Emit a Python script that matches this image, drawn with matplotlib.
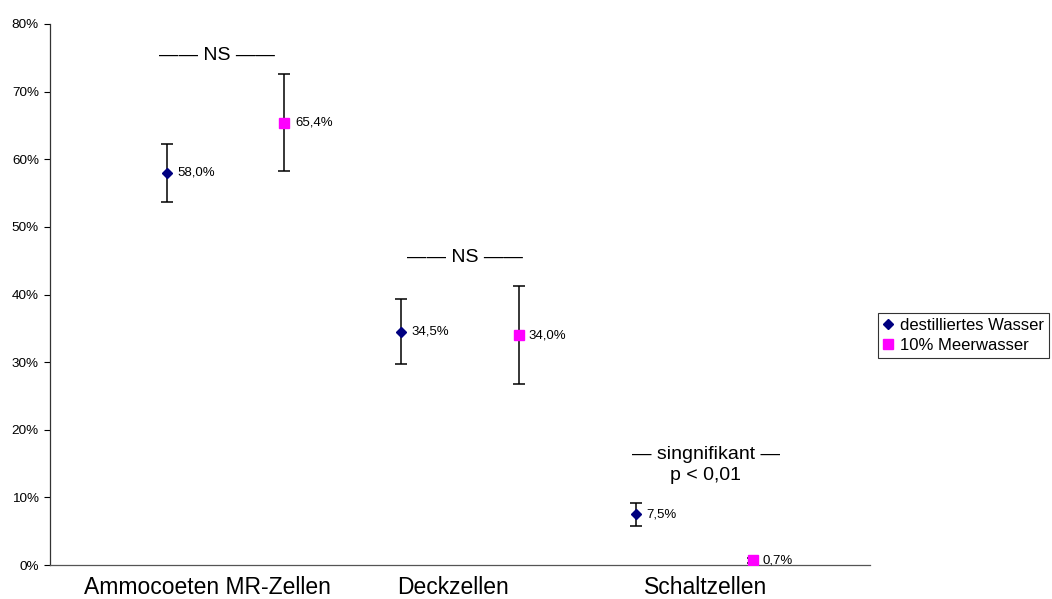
import numpy as np
import matplotlib
matplotlib.use('Agg')
import matplotlib.pyplot as plt
from matplotlib.lines import Line2D
from matplotlib.ticker import FuncFormatter

plt.rcParams['font.family'] = ['Liberation Sans', 'DejaVu Sans']

# ── Daten ────────────────────────────────────────────────────────────────────
zelltypen = ['Ammocoeten MR-Zellen', 'Deckzellen', 'Schaltzellen']
dest_wasser = [58.0, 34.5, 7.5]       # Mittelwert (%)
dest_fehler = [4.3, 4.8, 1.7]         # Fehlerbalken (%)
meerwasser = [65.4, 34.0, 0.7]
meer_fehler = [7.2, 7.3, 0.4]
serien = ['destilliertes Wasser', '10% Meerwasser']

# Signifikanz-Beschriftungen: (Text, x, y)
signif = [
    ('\u2014\u2014 NS \u2014\u2014', -0.04, 75.4),
    ('\u2014\u2014 NS \u2014\u2014', 1.02, 45.5),
    ('\u2014 singnifikant \u2014\np < 0,01', 2.05, 14.8),
]

# ── Figur ────────────────────────────────────────────────────────────────────
W, H = 1052, 599
fig = plt.figure(figsize=(W / 100, H / 100), dpi=100)
ax = fig.add_axes([50 / W, (H - 565) / H, 820 / W, 541 / H])

x = np.arange(len(zelltypen))
off = 0.25
stil = [dict(marker='D', color='#000080', markersize=5.5),
        dict(marker='s', color='#ff00ff', markersize=6.5)]

ax.errorbar(x - off, dest_wasser, yerr=dest_fehler, fmt='none', ecolor='black',
            elinewidth=1.1, capsize=4.5, capthick=1.1, zorder=2)
ax.errorbar(x + off, meerwasser, yerr=meer_fehler, fmt='none', ecolor='black',
            elinewidth=1.1, capsize=4.5, capthick=1.1, zorder=2)
ax.plot(x - off, dest_wasser, ls='none', zorder=3, **stil[0])
ax.plot(x + off, meerwasser, ls='none', zorder=3, **stil[1])

# Wertebeschriftungen
for xs, vals in [(x - off, dest_wasser), (x + off, meerwasser)]:
    for xi, v in zip(xs, vals):
        ax.annotate(f'{v:.1f}%'.replace('.', ','), (xi, v), xytext=(7.5, 0),
                    textcoords='offset points', va='center', ha='left',
                    fontsize=9.5)

for txt, tx, ty in signif:
    ax.text(tx, ty, txt, ha='center', va='center', fontsize=14,
            linespacing=1.25)

# ── Achsen ───────────────────────────────────────────────────────────────────
ax.set_xlim(-0.752, 2.752)
ax.set_ylim(0, 80)
ax.set_yticks(np.arange(0, 81, 10))
ax.yaxis.set_major_formatter(FuncFormatter(lambda v, _: f'{v:.0f}%'))
ax.set_xticks([-0.08, 0.97, 2.05])
ax.set_xticklabels(zelltypen, fontsize=16.5)
ax.tick_params(axis='x', length=0, pad=8)
ax.tick_params(axis='y', length=4, width=0.8, pad=4, labelsize=9.7)
for s in ['top', 'right']:
    ax.spines[s].set_visible(False)
ax.spines['left'].set_color('#333333')
ax.spines['bottom'].set_color('#555555')
ax.spines['left'].set_linewidth(0.9)
ax.spines['bottom'].set_linewidth(0.9)

handles = [Line2D([], [], ls='none', **stil[0]),
           Line2D([], [], ls='none', **stil[1])]
leg = fig.legend(handles, serien, loc='upper left',
                 bbox_to_anchor=(878 / W, 1 - 313 / H),
                 fontsize=12, frameon=True, fancybox=False, handlelength=0.6,
                 handletextpad=0.4, borderpad=0.3, labelspacing=0.3,
                 borderaxespad=0)
leg.get_frame().set_edgecolor('black')
leg.get_frame().set_linewidth(0.8)

fig.savefig('out.png', dpi=100)
